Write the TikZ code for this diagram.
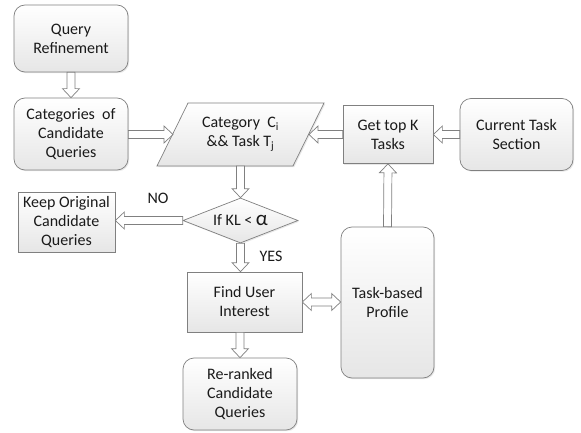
\documentclass[tikz,border=0pt]{standalone}
\usepackage{fontspec}
\setmainfont{Carlito}
\usetikzlibrary{calc,shapes.geometric,shadows}
\definecolor{bordergray}{HTML}{808080}
\definecolor{fillbot}{HTML}{E6E6E6}
\definecolor{txt}{HTML}{1A1A1A}
\tikzset{
  box/.style={draw=bordergray, line width=0.7pt, top color=white, bottom color=fillbot,
    align=center, text=txt, font=\fontsize{16}{19}\selectfont, inner sep=0pt,
    drop shadow={opacity=0.18, shadow xshift=1.2pt, shadow yshift=-1.2pt}},
  rbox/.style={box, rounded corners=11pt},
  arrowline/.style={draw=bordergray, fill=white, line width=0.7pt, line join=miter},
  lbl/.style={text=txt, font=\fontsize{16}{19}\selectfont, inner sep=0pt}
}
\newcommand\barrow[2]{%
  \draw[arrowline] let \p1=(#1), \p2=(#2), \n1={atan2(\y2-\y1,\x2-\x1)}, \n2={veclen(\x2-\x1,\y2-\y1)} in
  ($(\p1)+(\n1+90:4pt)$) -- ($(\p1)+(\n1:\n2-9pt)+(\n1+90:4pt)$) -- ($(\p1)+(\n1:\n2-9pt)+(\n1+90:8.5pt)$)
  -- (\p2) -- ($(\p1)+(\n1:\n2-9pt)+(\n1-90:8.5pt)$) -- ($(\p1)+(\n1:\n2-9pt)+(\n1-90:4pt)$)
  -- ($(\p1)+(\n1-90:4pt)$) -- cycle;}
\newcommand\bdarrow[2]{%
  \draw[arrowline] let \p1=(#1), \p2=(#2), \n1={atan2(\y2-\y1,\x2-\x1)}, \n2={veclen(\x2-\x1,\y2-\y1)} in
  (\p1) -- ($(\p1)+(\n1:9pt)+(\n1+90:8.5pt)$) -- ($(\p1)+(\n1:9pt)+(\n1+90:4pt)$)
  -- ($(\p1)+(\n1:\n2-9pt)+(\n1+90:4pt)$) -- ($(\p1)+(\n1:\n2-9pt)+(\n1+90:8.5pt)$)
  -- (\p2) -- ($(\p1)+(\n1:\n2-9pt)+(\n1-90:8.5pt)$) -- ($(\p1)+(\n1:\n2-9pt)+(\n1-90:4pt)$)
  -- ($(\p1)+(\n1:9pt)+(\n1-90:4pt)$) -- ($(\p1)+(\n1:9pt)+(\n1-90:8.5pt)$) -- cycle;}
\begin{document}
\begin{tikzpicture}[x=1pt, y=-1pt]
  \fill[white] (0,0) rectangle (581,433);
  \useasboundingbox (0,0) rectangle (581,433);

  % nodes
  \node[rbox, minimum width=114pt, minimum height=67pt] (qr) at (71,38.5) {Query\\Refinement};
  \node[rbox, minimum width=114pt, minimum height=72pt] (cat) at (71,134) {Categories\ \ of\\Candidate\\Queries};
  \path[box, draw=bordergray] (188,103) -- (324,103) -- (293,166) -- (157,166) -- cycle;
  \node[lbl, align=center] (pc) at (240.5,134.5) {Category\ \ C\textsubscript{i}\\\&\& Task T\textsubscript{j}};
  \coordinate (pcl) at (173,134.5);
  \coordinate (pcr) at (309,134.5);
  \coordinate (pcb) at (240.5,166);
  \node[box, minimum width=90pt, minimum height=58pt] (gtk) at (388,134.5) {Get top K\\Tasks};
  \node[rbox, minimum width=113pt, minimum height=72pt] (cts) at (516.5,134.5) {Current Task\\Section};
  \node[box, shape=diamond, aspect=2.55, minimum width=115pt, minimum height=45pt] (dia) at (240.5,220.5) {If KL < {\fontsize{21}{21}\selectfont α}};
  \node[box, minimum width=97pt, minimum height=60pt] (keep) at (66.5,222) {Keep Original\\Candidate\\Queries};
  \node[box, minimum width=115pt, minimum height=60pt] (fui) at (244.5,302) {Find User\\Interest};
  \node[rbox, minimum width=114pt, minimum height=72pt] (rr) at (240,394) {Re-ranked\\Candidate\\Queries};
  \node[rbox, minimum width=93pt, minimum height=151pt] (tbp) at (387.5,302.5) {Task-based\\Profile};
  \node[lbl] (no) at (158,198) {NO};
  \node[lbl] (yes) at (271,256) {YES};

  % connectors
  \barrow{qr.south}{cat.north}
  \barrow{cat.east |- pcl}{pcl}
  \barrow{gtk.west}{pcr}
  \barrow{cts.west}{gtk.east}
  \barrow{pcb}{dia.north}
  \barrow{dia.west}{keep.east |- dia.west}
  \barrow{dia.south}{dia.south |- fui.north}
  \barrow{rr.north |- fui.south}{rr.north}
  \barrow{tbp.north}{gtk.south}
  \bdarrow{fui.east}{tbp.west |- fui.east}
\end{tikzpicture}
\end{document}
